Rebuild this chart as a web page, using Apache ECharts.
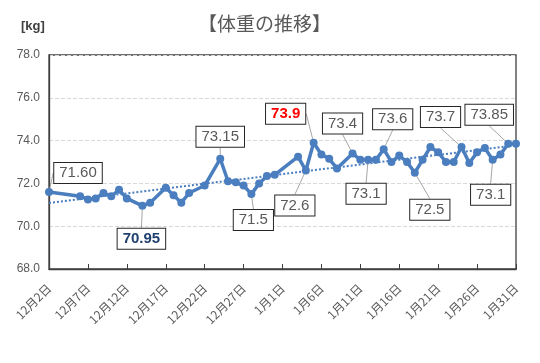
<!DOCTYPE html>
<html>
<head>
<meta charset="utf-8">
<style>
html,body{margin:0;padding:0;background:#fff;}
#c{width:540px;height:363px;}
</style>
<script src="https://cdn.jsdelivr.net/npm/echarts@6/dist/echarts.min.js"></script>
</head>
<body>
<div id="c"></div>
<script>
const categories = [
  '12月2日','12月3日','12月4日','12月5日','12月6日','12月7日','12月8日','12月9日','12月10日','12月11日',
  '12月12日','12月13日','12月14日','12月15日','12月16日','12月17日','12月18日','12月19日','12月20日','12月21日',
  '12月22日','12月23日','12月24日','12月25日','12月26日','12月27日','12月28日','12月29日','12月30日','12月31日',
  '1月1日','1月2日','1月3日','1月4日','1月5日','1月6日','1月7日','1月8日','1月9日','1月10日',
  '1月11日','1月12日','1月13日','1月14日','1月15日','1月16日','1月17日','1月18日','1月19日','1月20日',
  '1月21日','1月22日','1月23日','1月24日','1月25日','1月26日','1月27日','1月28日','1月29日','1月30日',
  '1月31日'
];
const weights = [
  71.6, null, null, null, 71.4, 71.25, 71.3, 71.55, 71.4, 71.7,
  71.3, null, 70.95, 71.1, null, 71.8, 71.45, 71.1, 71.55, null,
  71.9, null, 73.15, 72.1, 72.05, 71.9, 71.5, 72.0, 72.35, 72.4,
  null, null, 73.25, 72.6, 73.9, 73.35, 73.15, 72.7, null, 73.4,
  73.1, 73.1, 73.1, 73.6, 73.0, 73.3, 73.0, 72.5, 73.1, 73.7,
  73.45, 73.0, 73.0, 73.7, 72.95, 73.45, 73.65, 73.1, 73.35, 73.85,
  73.85
];
const yTicks = [68, 70, 72, 74, 76, 78];
// label texts (index -> text)
const labelIdx   = [0, 12, 22, 26, 33, 34, 39, 41, 43, 47, 53, 57, 59];
const labelTexts = ['71.60','70.95','73.15','71.5','72.6','73.9','73.4','73.1','73.6','72.5','73.7','73.1','73.85'];

// label placement offsets (styling)
const labelOffsets = {
  0:[29,-19], 12:[-1,33], 22:[0,-22], 26:[2,26], 33:[-11,35], 34:[-28,-29],
  39:[-10,-30], 41:[-2,34], 43:[9,-30], 47:[15,37], 53:[-21,-30], 57:[-2,35], 59:[-19,-29]
};
const specialStyle = {
  12:{color:'#1F3F6E', fontWeight:'bold'},
  34:{color:'#FF0000', fontWeight:'bold'}
};

const blue = '#4A7EBF';

const seriesData = weights.map((v, i) => {
  const k = labelIdx.indexOf(i);
  if (v === null) return null;
  if (k < 0) return v;
  const st = specialStyle[i] || {};
  return {
    value: v,
    label: Object.assign({
      show: true,
      position: 'inside',
      formatter: labelTexts[k],
      color: '#595959',
      fontSize: 15,
      fontFamily: 'Liberation Sans, Arial, sans-serif',
      backgroundColor: '#fff',
      borderColor: '#262626',
      borderWidth: 1,
      padding: [3, 5, 2, 5]
    }, st)
  };
});

// linear trendline (least squares on day index)
let n=0,sx=0,sy=0,sxx=0,sxy=0;
weights.forEach((v,i)=>{ if(v!==null){n++;sx+=i;sy+=v;sxx+=i*i;sxy+=i*v;} });
const slope=(n*sxy-sx*sy)/(n*sxx-sx*sx);
const icpt=(sy-slope*sx)/n;
const trend = categories.map((c,i)=> +(icpt+slope*i).toFixed(4));

const chart = echarts.init(document.getElementById('c'));
chart.setOption({
  animation: false,
  title: [
    {text:'【体重の推移】', left: 193, top: 9,
     textStyle:{fontSize:19, fontWeight:'normal', color:'#595959', fontFamily:'Noto Sans CJK JP'}},
    {text:'[kg]', left: 16, top: 15,
     textStyle:{fontSize:13, fontWeight:'bold', color:'#404040', fontFamily:'Liberation Sans, Arial'}}
  ],
  grid: {left: 49, right: 24, top: 55, bottom: 94, show: true, borderColor: '#404040', borderWidth: 1.3},
  xAxis: {
    type: 'category', data: categories, boundaryGap: false,
    axisLine: {show:true, lineStyle:{color:'#404040', width:1.3}},
    axisTick: {show:true, inside:true, interval:4, length:5, lineStyle:{color:'#404040'}},
    axisLabel: {interval:4, rotate:45, margin:17, color:'#595959', fontSize:12, fontFamily:'Noto Sans CJK JP'},
    splitLine: {show:false}
  },
  yAxis: {
    type: 'value', min: yTicks[0], max: yTicks[yTicks.length-1], interval: 2,
    axisLine: {show:true, lineStyle:{color:'#404040', width:1.3}},
    axisTick: {show:false},
    axisLabel: {formatter: v => v.toFixed(1), color:'#595959', fontSize:12, margin:9, fontFamily:'Liberation Sans, Arial'},
    splitLine: {show:true, lineStyle:{color:'#D9D9D9', type:'dashed', width:1}}
  },
  series: [
    {
      type:'line', data: trend, symbol:'none', silent:true, z:1,
      lineStyle:{color: blue, width:2, type:'dotted'}
    },
    {
      type:'line', data: seriesData, connectNulls:true, z:3,
      symbol:'circle', symbolSize:8, showSymbol:true, showAllSymbol:true,
      itemStyle:{color: blue},
      lineStyle:{color: blue, width:3.5},
      labelLayout: function(p){
        const o = labelOffsets[p.dataIndex];
        if(!o) return {};
        return {dx:o[0], dy:o[1]};
      },
      labelLine: {show:true, showAbove:false, lineStyle:{color:'#A6A6A6', width:1}}
    }
  ]
});
</script>
</body>
</html>
